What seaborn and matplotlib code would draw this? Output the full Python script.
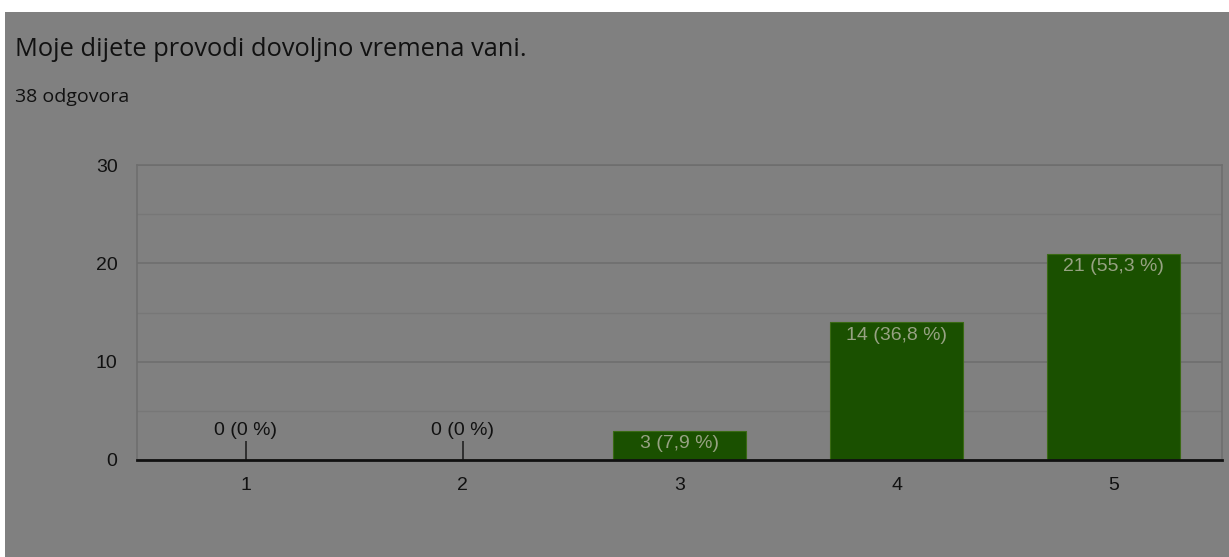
import numpy as np
import pandas as pd
import seaborn as sns
import matplotlib.pyplot as plt
from matplotlib.patches import Rectangle

# podaci s grafa
kategorije = ['1', '2', '3', '4', '5']
odgovori = [0, 0, 3, 14, 21]
postoci = ['0 %', '0 %', '7,9 %', '36,8 %', '55,3 %']
naslov = 'Moje dijete provodi dovoljno vremena vani.'
podnaslov = '38 odgovora'

df = pd.DataFrame({'ocjena': kategorije, 'broj': odgovori})

sns.set_style('white')
plt.rcParams['font.family'] = ['Liberation Sans', 'DejaVu Sans']

siva = '#808080'
zelena = '#1a5000'

fig = plt.figure(figsize=(12.29, 5.57), dpi=100)
fig.patch.set_facecolor('white')
# sivi okvir (zatamnjeni screenshot)
fig.patches.append(Rectangle((5 / 1229, 0), 1 - 5 / 1229, 1 - 12 / 557,
                             transform=fig.transFigure, facecolor=siva,
                             edgecolor='none', zorder=-10))

ax = fig.add_axes([137 / 1229, 97 / 557, 1085 / 1229, 295 / 557])
ax.set_facecolor(siva)

sns.barplot(data=df, x='ocjena', y='broj', color=zelena, width=0.61,
            edgecolor='#3a6a14', linewidth=0.8, saturation=1, ax=ax, zorder=3)

ax.set_ylim(0, 30)
ax.set_xlim(-0.5, 4.5)
ax.set_yticks([0, 10, 20, 30])
ax.set_yticks([5, 15, 25], minor=True)
ax.grid(axis='y', which='major', color='#6e6e6e', linewidth=1.2, zorder=0)
ax.grid(axis='y', which='minor', color='#777777', linewidth=1.0, zorder=0)
ax.set_axisbelow(True)

for s in ['left', 'right', 'top']:
    ax.spines[s].set_color('#6e6e6e')
    ax.spines[s].set_linewidth(1.2)
ax.spines['bottom'].set_color('#111111')
ax.spines['bottom'].set_linewidth(2)
ax.spines['bottom'].set_zorder(5)

ax.tick_params(axis='both', which='both', length=0, labelsize=14,
               labelcolor='#111111')
ax.tick_params(axis='y', pad=14)
ax.tick_params(axis='x', pad=12)
ax.set_xlabel('')
ax.set_ylabel('')

for i, (n, p) in enumerate(zip(odgovori, postoci)):
    tekst = f'{n} ({p})'
    if n == 0:
        ax.vlines(i, 0, 1.95, color='#222222', linewidth=1.2, zorder=4)
        ax.annotate(tekst, (i, 1.95), xytext=(0, 1), textcoords='offset points',
                    ha='center', va='bottom', fontsize=14, color='#111111')
    else:
        ax.annotate(tekst, (i, n), xytext=(0, -3), textcoords='offset points',
                    ha='center', va='top', fontsize=14, color='#97a283',
                    zorder=6)

fig.text(15 / 1229, 1 - 49 / 557, naslov, fontsize=18.3, color='#111111',
         family=['Open Sans', 'DejaVu Sans'], va='center', ha='left')
fig.text(15 / 1229, 1 - 97 / 557, podnaslov, fontsize=14, color='#111111',
         family=['Open Sans', 'DejaVu Sans'], va='center', ha='left')

fig.savefig('out.png', dpi=100, facecolor=fig.get_facecolor())
